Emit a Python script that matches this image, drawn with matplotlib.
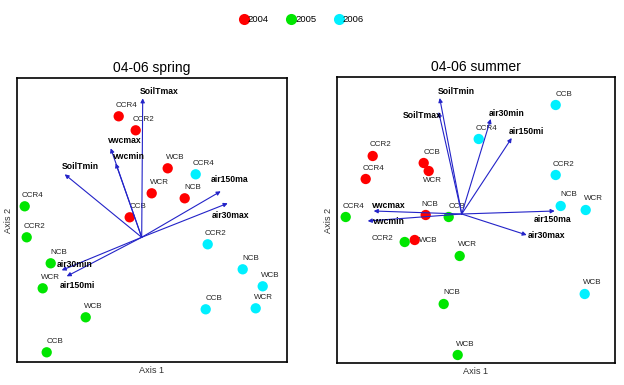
import matplotlib.pyplot as plt
from matplotlib.lines import Line2D

plt.rcParams["font.family"] = ["Liberation Sans", "DejaVu Sans"]

# site labels, same order in every year group
sites_2004_spring = ["CCR4", "CCR2", "WCB", "WCR", "NCB", "CCB"]
x_2004_spring = [-0.23, -0.06, 0.26, 0.10, 0.43, -0.12]
y_2004_spring = [1.21, 1.07, 0.69, 0.44, 0.39, 0.20]

sites_2005_spring = ["CCR4", "CCR2", "NCB", "WCR", "WCB", "CCB"]
x_2005_spring = [-1.17, -1.15, -0.91, -0.99, -0.56, -0.95]
y_2005_spring = [0.31, 0.00, -0.26, -0.51, -0.80, -1.15]

sites_2006_spring = ["CCR4", "CCR2", "NCB", "WCB", "WCR", "CCB"]
x_2006_spring = [0.54, 0.66, 1.01, 1.21, 1.14, 0.64]
y_2006_spring = [0.63, -0.07, -0.32, -0.49, -0.71, -0.72]

vars_spring = ["SoilTmax", "vwcmax", "vwcmin", "SoilTmin",
               "air150ma", "air30max", "air30min", "air150mi"]
vx_spring = [0.01, -0.31, -0.26, -0.77, 0.79, 0.86, -0.80, -0.75]
vy_spring = [1.39, 0.89, 0.74, 0.63, 0.46, 0.34, -0.33, -0.39]

sites_2004_summer = ["CCR2", "CCR4", "CCB", "WCR", "NCB", "WCB"]
x_2004_summer = [-0.89, -0.96, -0.38, -0.33, -0.36, -0.47]
y_2004_summer = [0.58, 0.35, 0.51, 0.43, -0.01, -0.26]

sites_2005_summer = ["CCR4", "CCB", "CCR2", "WCR", "NCB", "WCB"]
x_2005_summer = [-1.16, -0.13, -0.57, -0.02, -0.18, -0.04]
y_2005_summer = [-0.03, -0.03, -0.28, -0.42, -0.90, -1.41]

sites_2006_summer = ["CCB", "CCR4", "CCR2", "NCB", "WCR", "WCB"]
x_2006_summer = [0.94, 0.17, 0.94, 0.99, 1.24, 1.23]
y_2006_summer = [1.09, 0.75, 0.39, 0.08, 0.04, -0.80]

vars_summer = ["SoilTmin", "SoilTmax", "air30min", "air150mi",
               "vwcmax", "vwcmin", "air150ma", "air30max"]
vx_summer = [-0.22, -0.23, 0.29, 0.50, -0.88, -0.94, 0.93, 0.65]
vy_summer = [1.16, 1.02, 0.95, 0.76, 0.03, -0.07, 0.03, -0.21]

years = ["2004", "2005", "2006"]
colors = ["#ff0000", "#00e600", "#00f0ff"]
arrow_color = "#2323c8"

# label offsets in pixels (dx, dy up); default is above-right
site_off_default = (8, 11)
site_off_spring = {}
site_off_summer = {("2004", "WCR"): (4, -10), ("2004", "NCB"): (4, 11),
                   ("2004", "WCB"): (14, 0), ("2005", "CCR2"): (-22, 3)}
var_off_spring = {"SoilTmax": (16, 7), "vwcmax": (14, 8), "vwcmin": (13, 7),
                  "SoilTmin": (16, 8), "air150ma": (9, 12), "air30max": (3, -12),
                  "air30min": (13, 6), "air150mi": (11, -9)}
var_off_summer = {"SoilTmin": (17, 7), "SoilTmax": (-17, -3), "air30min": (16, 6),
                  "air150mi": (15, 7), "vwcmax": (15, 6), "vwcmin": (21, -1),
                  "air150ma": (-2, -8), "air30max": (20, 0)}

W, H = 624, 385
fig = plt.figure(figsize=(W / 100, H / 100), dpi=100)


def panel(rect, title, groups, vnames, vx, vy, site_off, var_off, xlim, ylim):
    l, t, r, b = rect
    ax = fig.add_axes([l / W, 1 - b / H, (r - l) / W, (b - t) / H])
    for yr, col, (names, xs, ys) in zip(years, colors, groups):
        ax.scatter(xs, ys, s=55, color=col, edgecolors="none", zorder=2)
        for n, x, y in zip(names, xs, ys):
            dx, dy = site_off.get((yr, n), site_off_default)
            ax.annotate(n, (x, y), xytext=(dx, dy), textcoords="offset pixels",
                        ha="center", va="center", fontsize=5.8, color="#222222")
    for n, x, y in zip(vnames, vx, vy):
        ax.annotate("", xy=(x, y), xytext=(0, 0),
                    arrowprops=dict(arrowstyle="-|>", color=arrow_color, lw=0.8,
                                    mutation_scale=6, shrinkA=0, shrinkB=0),
                    zorder=3)
        dx, dy = var_off[n]
        ax.annotate(n, (x, y), xytext=(dx, dy), textcoords="offset pixels",
                    ha="center", va="center", fontsize=6.2, fontweight="bold",
                    color="black", zorder=4)
    ax.set_xlim(xlim)
    ax.set_ylim(ylim)
    ax.set_xticks([])
    ax.set_yticks([])
    for s in ax.spines.values():
        s.set_linewidth(1.2)
        s.set_color("black")
    ax.set_title(title, fontsize=10, pad=4)
    ax.set_xlabel("Axis 1", fontsize=6.6, color="#333333", labelpad=3)
    ax.set_ylabel("Axis 2", fontsize=6.6, color="#333333", labelpad=3)
    return ax


panel((17, 78, 287, 362), "04-06 spring",
      [(sites_2004_spring, x_2004_spring, y_2004_spring),
       (sites_2005_spring, x_2005_spring, y_2005_spring),
       (sites_2006_spring, x_2006_spring, y_2006_spring)],
      vars_spring, vx_spring, vy_spring, site_off_spring, var_off_spring,
      (-1.247, 1.453), (-1.247, 1.593))

panel((337, 77, 615, 363), "04-06 summer",
      [(sites_2004_summer, x_2004_summer, y_2004_summer),
       (sites_2005_summer, x_2005_summer, y_2005_summer),
       (sites_2006_summer, x_2006_summer, y_2006_summer)],
      vars_summer, vx_summer, vy_summer, site_off_summer, var_off_summer,
      (-1.247, 1.533), (-1.49, 1.37))

handles = [Line2D([], [], marker="o", linestyle="none", markersize=8,
                  markerfacecolor=c, markeredgecolor="none", label=y)
           for y, c in zip(years, colors)]
fig.legend(handles=handles, loc="center", bbox_to_anchor=(301 / W, 1 - 20 / H),
           ncol=3, frameon=False, handletextpad=-0.2, columnspacing=1.8,
           fontsize=6.8, handlelength=1.2)

fig.savefig("out.png", dpi=100)
